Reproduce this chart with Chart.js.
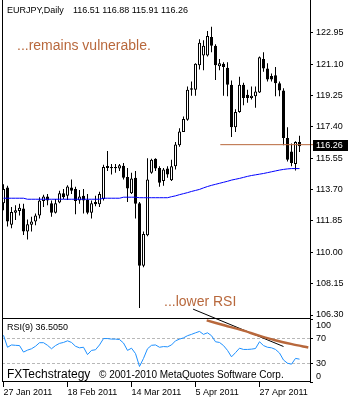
<!DOCTYPE html>
<html><head><meta charset="utf-8">
<script src="https://cdn.jsdelivr.net/npm/chart.js@4.4.1/dist/chart.umd.min.js"></script>
<style>html,body{margin:0;padding:0;background:#fff;}canvas{display:block;}</style>
</head><body>
<canvas id="c" width="350" height="400"></canvas>
<script>
// ---- data ----
const chartTitle = 'EURJPY,Daily';
const lastBarText = '116.51 116.88 115.91 116.26';
const rsiTitle = 'RSI(9) 36.5050';
const noteTop = '...remains vulnerable.';
const noteBottom = '...lower RSI';
const brandText = 'FXTechstrategy';
const copyrightText = '\u00A9 2001-2010 MetaQuotes Software Corp.';

const opens = [112.90,113.82,111.62,112.33,112.44,112.58,111.23,111.62,111.81,112.17,
  113.02,113.29,112.90,112.33,112.94,113.48,113.34,113.82,113.73,113.06,
  113.34,113.09,112.33,112.96,112.83,113.15,115.09,115.03,115.03,114.94,
  115.11,114.44,113.48,114.40,112.90,109.21,111.00,114.69,115.52,114.98,
  114.21,114.94,114.25,115.07,116.32,117.09,117.82,119.59,119.59,121.03,
  121.61,121.61,122.70,122.18,120.97,121.13,120.89,119.88,117.38,118.28,
  119.88,119.30,119.11,119.20,119.43,121.41,120.84,120.40,120.45,119.97,
  119.55,116.75,115.94,115.21,116.51];
const highs = [114.02,113.92,112.67,112.77,112.86,112.86,111.94,112.10,112.29,113.25,
  113.40,113.44,113.06,113.15,113.63,113.73,113.96,114.30,113.86,113.67,
  113.73,113.44,113.06,113.34,113.57,115.17,115.98,115.21,115.21,115.21,
  115.27,114.98,114.69,114.79,112.96,111.23,115.55,115.52,115.55,115.07,
  114.98,115.07,115.46,116.51,117.32,118.01,119.78,120.07,121.16,122.57,
  122.51,123.05,123.30,122.28,121.41,121.22,121.22,120.13,118.44,120.36,
  120.01,119.59,119.78,119.78,121.55,121.80,121.16,120.55,120.93,120.07,
  119.68,117.38,116.42,116.55,116.88];
const lows = [112.48,111.52,111.42,111.90,112.17,111.02,110.75,111.23,111.60,112.00,
  112.67,112.77,112.10,112.29,112.90,113.15,113.09,113.44,112.25,112.86,
  112.29,112.25,112.00,112.71,112.67,113.06,114.79,114.59,114.69,114.79,
  114.30,112.96,113.44,112.00,106.72,109.12,110.94,114.63,114.79,113.86,
  113.92,114.40,114.21,114.88,116.23,117.09,117.76,119.24,119.24,120.78,
  120.74,121.55,121.80,120.16,120.74,119.24,119.20,116.80,117.09,118.24,
  118.67,118.82,119.01,118.53,119.40,120.65,120.07,120.07,119.20,119.20,
  116.32,115.36,115.07,114.82,115.91];
const closes = [113.73,111.81,112.38,112.48,112.63,111.23,111.65,111.81,112.17,113.06,
  113.29,113.06,112.33,112.90,113.48,113.25,113.88,113.63,113.02,113.29,
  113.06,112.33,112.90,112.83,113.44,115.03,114.98,114.96,114.96,115.13,
  114.40,113.77,114.36,112.86,109.21,111.08,114.30,115.46,114.94,114.11,
  114.88,114.59,115.07,116.36,117.13,117.86,119.59,119.68,121.13,122.37,
  122.18,122.76,122.18,121.03,121.16,120.93,119.88,117.38,118.28,119.88,
  119.11,119.11,119.24,119.49,121.51,120.84,120.20,120.20,119.97,119.55,
  116.75,115.46,115.27,116.51,116.26];
const movingAvg = [113.19,113.19,113.19,113.19,113.19,113.19,113.13,113.13,113.13,113.13,
  113.13,113.13,113.13,113.13,113.13,113.13,113.13,113.13,113.13,113.13,
  113.13,113.13,113.13,113.13,113.13,113.19,113.19,113.19,113.19,113.19,
  113.25,113.25,113.25,113.25,113.22,113.22,113.22,113.22,113.22,113.22,
  113.22,113.22,113.28,113.33,113.40,113.46,113.52,113.59,113.65,113.71,
  113.80,113.88,113.95,114.01,114.07,114.13,114.19,114.26,114.31,114.36,
  114.42,114.48,114.53,114.57,114.61,114.65,114.70,114.75,114.80,114.85,
  114.89,114.92,114.94,114.94,114.94];
const rsiValues = [74.6,55.5,59.2,58.6,58.2,47.8,50.9,53.1,57.1,62.8,
  62.8,58.6,53.1,58.2,61.7,63.2,65.8,63.2,57.1,54.6,
  55.5,43.8,50.5,51.5,59.2,69.4,69.4,68.5,68.5,67.8,
  62.3,50.5,54.0,45.4,24.8,37.7,53.1,58.6,59.2,55.5,
  56.6,56.2,59.2,65.8,68.5,70.5,74.0,76.1,78.6,80.8,
  76.1,78.6,74.0,64.3,63.2,58.2,50.5,40.2,46.9,54.0,
  52.0,52.0,52.5,53.5,64.3,58.2,55.5,54.6,52.0,46.3,
  35.1,30.0,28.5,37.7,36.5];

const priceTicks = [122.95,121.10,119.25,117.40,115.55,113.70,111.85,110.00,108.15,106.30];
const rsiTicks = [100,70,30,0];
const rsiLevels = [70,30];
const dateTickIndex = [0,16,32,48,64];
const dateTickLabels = ['27 Jan 2011','18 Feb 2011','14 Mar 2011','5 Apr 2011','27 Apr 2011'];

// drawn objects (in bar index / value units)
const supportLevel = 116.35;
const supportBars = [54.2, 78];
const rsiTrendBars = [50.8,55.4,59.6,63.7,67.9,72.1,76.2];
const rsiTrendVals = [98.4,90.2,82.8,74.5,66.7,60.5,55.2];
const rsiBlackBars = [47.4,70.0];
const rsiBlackVals = [116.4,56.7];

// ---- chart ----
const BROWN = '#B8683C';
Chart.defaults.font.family = '"Liberation Sans", Arial, sans-serif';
Chart.defaults.font.size = 9;
Chart.defaults.color = '#000';

const xy = (xs, ys) => xs.map((x, i) => ({x: x, y: ys[i]}));
const idx = opens.map((_, i) => i);

const decor = {
  id: 'decor',
  beforeDatasetsDraw(chart) {
    const {ctx, chartArea: a} = chart;
    const r = chart.scales.rsi;
    ctx.save();
    ctx.strokeStyle = '#b8b8b8';
    ctx.lineWidth = 1;
    ctx.setLineDash([3, 2]);
    rsiLevels.forEach(v => {
      const py = Math.round(r.getPixelForValue(v)) + 0.5;
      ctx.beginPath(); ctx.moveTo(a.left, py); ctx.lineTo(a.right, py); ctx.stroke();
    });
    ctx.restore();
  },
  afterDraw(chart) {
    const {ctx, chartArea: a} = chart;
    const ys = chart.scales.y, r = chart.scales.rsi;
    ctx.save();
    // frames
    ctx.strokeStyle = '#000'; ctx.lineWidth = 1;
    ctx.beginPath();
    ctx.moveTo(a.left + 0.5, 0); ctx.lineTo(a.left + 0.5, a.bottom);
    ctx.moveTo(a.right + 0.5, 0); ctx.lineTo(a.right + 0.5, a.bottom);
    const sep = Math.round(ys.bottom) - 0.5;
    ctx.moveTo(a.left, sep); ctx.lineTo(a.right + 1, sep);
    ctx.moveTo(a.left, a.bottom - 0.5); ctx.lineTo(a.right + 1, a.bottom - 0.5);
    ctx.stroke();
    // header texts
    ctx.fillStyle = '#000';
    ctx.textBaseline = 'middle';
    ctx.textAlign = 'left';
    ctx.font = '9px "Liberation Sans", Arial, sans-serif';
    ctx.fillText(chartTitle, 7, 11);
    ctx.fillText(lastBarText, 73, 11);
    ctx.fillText(rsiTitle, 7, 328);
    // notes
    ctx.fillStyle = BROWN;
    ctx.font = '14px "Liberation Sans", Arial, sans-serif';
    ctx.fillText(noteTop, 17, 46);
    ctx.fillText(noteBottom, 164, 302.5);
    // brand / copyright
    ctx.fillStyle = '#000';
    ctx.font = '12px "Liberation Sans", Arial, sans-serif';
    ctx.fillText(brandText, 7, 374.5);
    ctx.font = '10px "Liberation Sans", Arial, sans-serif';
    ctx.fillText(copyrightText, 99, 375);
    // RSI axis labels
    ctx.font = '9px "Liberation Sans", Arial, sans-serif';
    rsiTicks.forEach(v => {
      const py = r.getPixelForValue(v);
      if (v === r.max) { ctx.textBaseline = 'top'; ctx.fillText(String(v), a.right + 6, py + 1.5); }
      else if (v === r.min) { ctx.textBaseline = 'bottom'; ctx.fillText(String(v), a.right + 6, py - 1); }
      else { ctx.textBaseline = 'middle'; ctx.fillText(String(v), a.right + 6, py); }
    });
    // current price box
    const last = closes[closes.length - 1];
    const lp = ys.getPixelForValue(last);
    ctx.fillStyle = '#000';
    ctx.fillRect(a.right + 3, Math.round(lp) - 6, 35, 11);
    ctx.fillStyle = '#fff';
    ctx.textBaseline = 'middle';
    ctx.fillText(last.toFixed(2), a.right + 6, Math.round(lp) - 0.5);
    ctx.restore();
  }
};

new Chart(document.getElementById('c'), {
  type: 'bar',
  data: {
    datasets: [
      {type: 'line', data: xy(idx, movingAvg), yAxisID: 'y', borderColor: '#0000ff', borderWidth: 1, pointRadius: 0, tension: 0, order: 0},
      {type: 'line', data: xy(supportBars, [supportLevel, supportLevel]), yAxisID: 'y', borderColor: BROWN, borderWidth: 1, pointRadius: 0, clip: false, order: 0},
      {type: 'bar', data: xy(idx, opens.map((o, i) => [o, closes[i]])), yAxisID: 'y',
        backgroundColor: opens.map((o, i) => closes[i] >= o ? '#ffffff' : '#000000'),
        borderColor: '#000', borderWidth: 1, borderSkipped: false, barThickness: 3, maxBarThickness: 3,
        grouped: false, inflateAmount: 0, order: 1},
      {type: 'bar', data: xy(idx, lows.map((l, i) => [l, highs[i]])), yAxisID: 'y',
        backgroundColor: '#000', borderWidth: 0, barThickness: 1, maxBarThickness: 1,
        grouped: false, inflateAmount: 0, order: 2},
      {type: 'line', data: xy(idx, rsiValues), yAxisID: 'rsi', borderColor: '#1e90ff', borderWidth: 1, pointRadius: 0, tension: 0, order: 0},
      {type: 'line', data: xy(rsiTrendBars, rsiTrendVals), yAxisID: 'rsi', borderColor: BROWN, borderWidth: 2.5, pointRadius: 0, tension: 0.3, clip: false, order: 0},
      {type: 'line', data: xy(rsiBlackBars, rsiBlackVals), yAxisID: 'rsi', borderColor: '#000', borderWidth: 1, pointRadius: 0, clip: false, order: 0}
    ]
  },
  options: {
    responsive: false,
    devicePixelRatio: 1,
    animation: false,
    events: [],
    layout: {padding: {left: 2, top: 0, right: 0, bottom: 0}},
    plugins: {legend: {display: false}, tooltip: {enabled: false}},
    scales: {
      x: {
        type: 'linear', min: -0.375, max: 76.625, offset: false,
        grid: {offset: false, drawOnChartArea: false, drawTicks: true, tickLength: 5, color: '#000', tickColor: '#000'},
        border: {display: false},
        afterBuildTicks: s => { s.ticks = dateTickIndex.map(v => ({value: v})); },
        afterFit: s => { s.height = 18; },
        ticks: {
          autoSkip: false, maxRotation: 0, minRotation: 0, align: 'start', padding: 0,
          callback: v => { const k = dateTickIndex.indexOf(v); return k >= 0 ? dateTickLabels[k] : ''; }
        }
      },
      y: {
        type: 'linear', position: 'right', stack: 'panes', stackWeight: 318,
        min: 106.04, max: 124.39,
        grid: {drawOnChartArea: false, drawTicks: true, tickLength: 3, color: '#000', tickColor: '#000'},
        border: {display: false},
        afterBuildTicks: s => { s.ticks = priceTicks.map(v => ({value: v})); },
        afterFit: s => { s.width = 40; },
        ticks: {padding: 3, callback: v => v.toFixed(2)}
      },
      rsi: {
        type: 'linear', axis: 'y', position: 'right', stack: 'panes', stackWeight: 64,
        min: 0, max: 100,
        grid: {drawOnChartArea: false, drawTicks: true, tickLength: 3, color: '#000', tickColor: '#000'},
        border: {display: false},
        afterBuildTicks: s => { s.ticks = rsiTicks.map(v => ({value: v})); },
        afterFit: s => { s.width = 40; },
        ticks: {display: false}
      }
    }
  },
  plugins: [decor]
});
</script>
</body></html>
